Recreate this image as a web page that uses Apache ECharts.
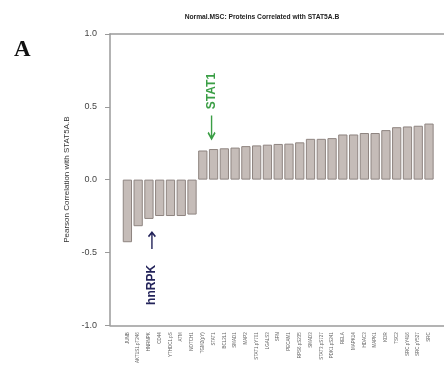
<!DOCTYPE html>
<html>
<head>
<meta charset="utf-8">
<script src="https://cdn.jsdelivr.net/npm/echarts@6/dist/echarts.min.js"></script>
<style>
  html, body { margin: 0; padding: 0; background: #fff; }
  #chart { width: 444px; height: 366px; }
</style>
</head>
<body>
<div id="chart"></div>
<script>
// proteins, in plotted order
const proteins = [
  'JUNB', 'AKT1S1.pT246', 'HNRNPK', 'CD44', 'YTHDC1.pS', 'ATM', 'NOTCH1',
  'TGM2(pY)', 'STAT1', 'BCL2L1', 'SMAD1', 'MAP2', 'STAT1.pY701', 'LGALS3',
  'SFN', 'PECAM1', 'RPS6.pS235', 'SMAD3', 'STAT3.pS727', 'PDK1.pS241', 'RELA',
  'MAPK14', 'HDAC3', 'MAPK1', 'KDR', 'TSC2', 'SRC.pY416', 'SRC.pY527', 'SRC'
];
// Pearson correlation with STAT5A.B
const correlations = [
  -0.43, -0.32, -0.27, -0.25, -0.25, -0.25, -0.24,
  0.20, 0.21, 0.215, 0.22, 0.23, 0.235, 0.24, 0.245, 0.247, 0.256,
  0.28, 0.28, 0.285, 0.31, 0.31, 0.32, 0.32, 0.34, 0.36, 0.365, 0.37, 0.385
];
const yTicks = [-1.0, -0.5, 0.0, 0.5, 1.0];

const arrowUp = 'path://M4,0 L8,4.6 L6.9,5.6 L4.7,3.1 L4.7,16 L3.3,16 L3.3,3.1 L1.1,5.6 L0,4.6 Z';
const arrowDown = 'path://M4,16 L8,11.4 L6.9,10.4 L4.7,12.9 L4.7,0 L3.3,0 L3.3,12.9 L1.1,10.4 L0,11.4 Z';

// frame lines (top and bottom of the plot box)
const frameAxis = pos => ({
  type: 'value', gridIndex: 1, position: pos,
  axisLine: { show: true, onZero: false, lineStyle: { color: '#9a9a9a', width: 1.5 } },
  axisTick: { show: false }, axisLabel: { show: false }, splitLine: { show: false }
});

const chart = echarts.init(document.getElementById('chart'));
chart.setOption({
  animation: false,
  title: [
    {
      text: 'Normal.MSC: Proteins Correlated with STAT5A.B',
      left: 257, top: 9, textAlign: 'center',
      textStyle: { fontFamily: 'Liberation Sans', fontSize: 6.7, fontWeight: 'bold', color: '#222' }
    },
    {
      text: 'A',
      left: 9, top: 34,
      textStyle: { fontFamily: 'Liberation Serif', fontSize: 23, fontWeight: 'bold', color: '#111' }
    }
  ],
  grid: [
    { left: 122, right: 9.6, top: 34, bottom: 40 },
    { left: 110, right: 0, top: 34, bottom: 40 }
  ],
  xAxis: [
    {
      type: 'category', gridIndex: 0, data: proteins,
      axisLine: { show: false }, axisTick: { show: false },
      axisLabel: {
        interval: 0, rotate: 90, margin: 7,
        fontFamily: 'Liberation Sans', fontSize: 4.5, color: '#666'
      }
    },
    frameAxis('bottom'),
    frameAxis('top')
  ],
  yAxis: [
    {
      type: 'value', gridIndex: 0, min: -1, max: 1, interval: 0.5, offset: 12,
      name: 'Pearson Correlation with STAT5A.B',
      nameLocation: 'middle', nameGap: 38,
      nameTextStyle: { fontFamily: 'Liberation Sans', fontSize: 8, color: '#333' },
      axisLine: { show: true, lineStyle: { color: '#9a9a9a', width: 1.5 } },
      axisTick: { show: true, length: 5, lineStyle: { color: '#9a9a9a' } },
      axisLabel: {
        margin: 13, fontFamily: 'Liberation Sans', fontSize: 9, color: '#444',
        formatter: v => yTicks.includes(v) ? v.toFixed(1) : ''
      },
      splitLine: { show: false }
    },
    { type: 'value', gridIndex: 1, show: false, min: -1, max: 1 }
  ],
  series: [
    {
      type: 'bar', xAxisIndex: 0, yAxisIndex: 0,
      data: correlations,
      barCategoryGap: '14%',
      itemStyle: { color: '#c5bcb8', borderColor: '#8f8581', borderWidth: 1 },
      markPoint: {
        silent: true,
        data: [
          {
            coord: ['HNRNPK', -0.27], symbol: arrowUp, symbolSize: [8, 18],
            symbolOffset: [3, 21], itemStyle: { color: '#23235a' }, label: { show: false }
          },
          {
            coord: ['HNRNPK', -0.27], symbol: 'circle', symbolSize: 0,
            symbolOffset: [3, 66],
            label: {
              show: true, formatter: 'hnRPK', rotate: 90, position: 'inside',
              fontFamily: 'Liberation Sans', fontSize: 12, fontWeight: 'bold', color: '#23235a'
            }
          },
          {
            coord: ['STAT1', 0.21], symbol: arrowDown, symbolSize: [8, 25],
            symbolOffset: [-2, -21], itemStyle: { color: '#3a9e45' }, label: { show: false }
          },
          {
            coord: ['STAT1', 0.21], symbol: 'circle', symbolSize: 0,
            symbolOffset: [-2, -58],
            label: {
              show: true, formatter: 'STAT1', rotate: 90, position: 'inside',
              fontFamily: 'Liberation Sans', fontSize: 12, fontWeight: 'bold', color: '#3a9e45'
            }
          }
        ]
      }
    }
  ]
});
</script>
</body>
</html>
